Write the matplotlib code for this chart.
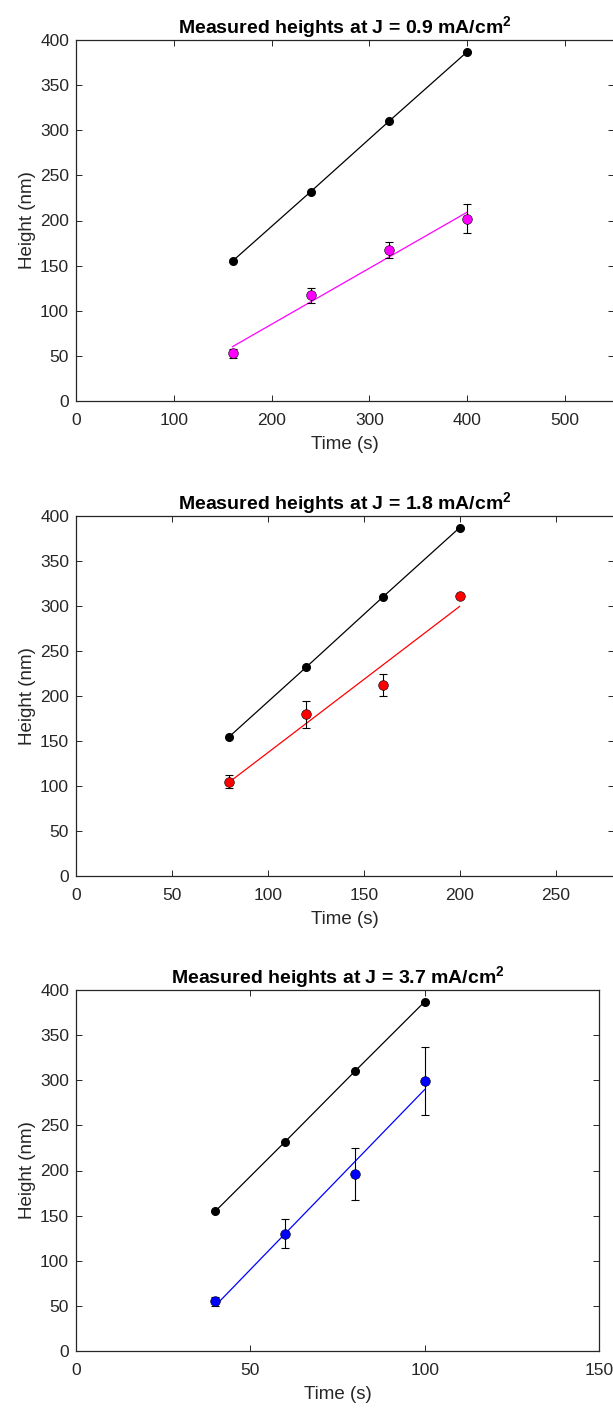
import numpy as np
import matplotlib
matplotlib.use("Agg")
import matplotlib.pyplot as plt

plt.rcParams['font.family'] = ['Liberation Sans', 'DejaVu Sans']
plt.rcParams['mathtext.fontset'] = 'custom'
plt.rcParams['mathtext.rm'] = 'Liberation Sans'
plt.rcParams['mathtext.bf'] = 'Liberation Sans:bold'

# reference (black) heights, same for every panel
ref_h = [155, 232, 310, 387]

# panel data
currents = ["0.9", "1.8", "3.7"]
times = [[160, 240, 320, 400], [80, 120, 160, 200], [40, 60, 80, 100]]
heights = [[53, 117, 167, 202], [105, 180, 212, 311], [55, 130, 196, 299]]
errors = [[5, 8, 9, 16], [7, 15, 12, 1], [5, 16, 29, 38]]
colors = ["#ff00ff", "#ff0000", "#0000ff"]
xlims = [550, 280.5, 150]
xticks = [[0, 100, 200, 300, 400, 500], [0, 50, 100, 150, 200, 250], [0, 50, 100, 150]]

W, H = 613, 1410
fig = plt.figure(figsize=(W / 100, H / 100), dpi=100)

# axes boxes in pixels (left, top, right, bottom)
boxes = [(76, 40, 614, 401), (76, 516, 614, 876), (76, 990, 599, 1351)]
grey = (0.15, 0.15, 0.15)

for i in range(3):
    l, t, r, b = boxes[i]
    ax = fig.add_axes([l / W, 1 - b / H, (r - l) / W, (b - t) / H])
    x = np.array(times[i])
    y = np.array(heights[i])

    ax.plot(x, ref_h, '-o', color='k', lw=0.9, ms=5.5, zorder=3)

    p = np.polyfit(x, y, 1)
    ax.plot(x, np.polyval(p, x), '-', color=colors[i], lw=0.9, zorder=2)
    ax.errorbar(x, y, yerr=errors[i], fmt='none', ecolor='k', elinewidth=0.8,
                capsize=3, capthick=0.8, zorder=4)
    ax.plot(x, y, 'o', color=colors[i], mec='k', mew=0.4, ms=7, zorder=5)

    ax.set_xlim(0, xlims[i])
    ax.set_ylim(0, 400)
    ax.set_xticks(xticks[i])
    ax.set_yticks(range(0, 401, 50))
    ax.tick_params(direction='in', top=True, right=True, length=4, width=0.7,
                   labelsize=12.5, colors=grey, labelcolor=grey, pad=5)
    ax.tick_params(axis='x', pad=8.5)
    for s in ax.spines.values():
        s.set_color(grey)
        s.set_linewidth(0.9)
    ax.set_xlabel("Time (s)", fontsize=13.5, color=grey, labelpad=6)
    ax.set_ylabel("Height (nm)", fontsize=13.5, color=grey, labelpad=3)
    ax.set_title(r"Measured heights at J = %s mA/cm$^{\mathbf{2}}$" % currents[i],
                 fontsize=14, fontweight='bold', pad=4)

fig.savefig("out.png", dpi=100)
